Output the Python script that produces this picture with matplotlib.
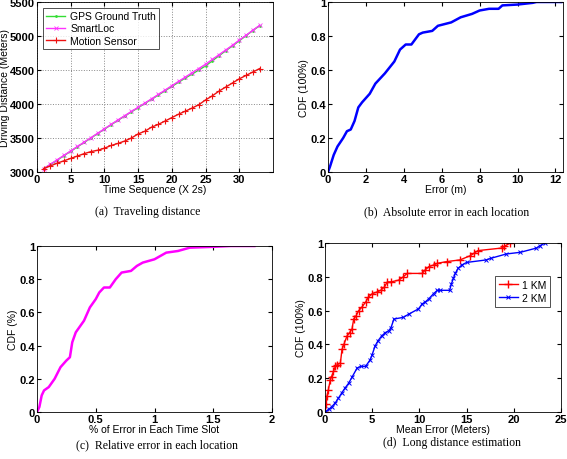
import numpy as np
import matplotlib.pyplot as plt

plt.rcParams['font.family'] = ['Liberation Sans', 'DejaVu Sans']

# (a) traveling distance
t_seq = list(range(1, 34))
gps_truth = [3050, 3110, 3175, 3240, 3305, 3370, 3435, 3500, 3565, 3630, 3695, 3760, 3822,
             3884, 3946, 4008, 4070, 4132, 4195, 4258, 4320, 4382, 4440, 4500, 4560, 4635,
             4710, 4785, 4855, 4930, 5005, 5080, 5150]
smartloc = [3050, 3115, 3180, 3245, 3310, 3375, 3440, 3505, 3570, 3635, 3700, 3765, 3828,
            3890, 3952, 4014, 4077, 4140, 4205, 4270, 4333, 4396, 4460, 4522, 4585, 4655,
            4725, 4795, 4865, 4940, 5010, 5085, 5155]
motion = [3050, 3090, 3130, 3165, 3200, 3235, 3270, 3300, 3320, 3350, 3390, 3420, 3455,
          3500, 3560, 3600, 3660, 3700, 3750, 3800, 3850, 3895, 3940, 3990, 4060, 4120,
          4190, 4250, 4310, 4370, 4420, 4470, 4520]

# (b) absolute error CDF
abs_err = [0, 0.1, 0.3, 0.5, 0.8, 1.0, 1.2, 1.4, 1.6, 1.8, 2.2, 2.5, 3.0, 3.5, 3.8, 4.1,
           4.4, 4.8, 5.0, 5.5, 5.8, 6.5, 7.0, 7.6, 8.0, 8.5, 9.0, 9.2, 10.0, 10.8, 11.0, 12.3]
abs_cdf = [0, 0.03, 0.1, 0.15, 0.2, 0.24, 0.25, 0.3, 0.38, 0.41, 0.46, 0.52, 0.58, 0.65,
           0.72, 0.75, 0.75, 0.81, 0.82, 0.83, 0.86, 0.88, 0.91, 0.93, 0.95, 0.96, 0.96,
           0.98, 0.985, 0.995, 1.0, 1.0]

# (c) relative error CDF
rel_err = [0, 0.02, 0.04, 0.06, 0.1, 0.15, 0.2, 0.25, 0.28, 0.3, 0.33, 0.4, 0.45, 0.5,
           0.53, 0.57, 0.62, 0.67, 0.72, 0.8, 0.85, 0.9, 1.0, 1.05, 1.1, 1.2, 1.3, 1.5,
           1.65, 1.85]
rel_cdf = [0, 0.03, 0.1, 0.13, 0.15, 0.2, 0.27, 0.31, 0.33, 0.42, 0.48, 0.55, 0.63, 0.68,
           0.72, 0.75, 0.75, 0.8, 0.84, 0.85, 0.88, 0.9, 0.92, 0.94, 0.96, 0.97, 0.99,
           0.995, 1.0, 1.0]

# (d) long distance
km1_err = [0, 0.1, 0.21, 0.35, 0.56, 0.7, 0.9, 1.1, 1.3, 1.63, 1.8, 2.0, 2.33, 2.6, 2.86,
           3.04, 3.3, 3.57, 3.9, 4.3, 4.6, 5.0, 5.5, 5.9, 6.3, 6.6, 7.0, 7.8, 8.3, 8.7, 10.3,
           10.6, 11.0, 11.5, 11.9, 12.9, 14.3, 15.4, 15.8, 16.2, 18.7, 19.0, 19.6]
km1_cdf = [0, 0.05, 0.095, 0.13, 0.19, 0.21, 0.24, 0.27, 0.28, 0.29, 0.37, 0.4, 0.45, 0.47,
           0.49, 0.55, 0.57, 0.6, 0.62, 0.65, 0.68, 0.70, 0.71, 0.72, 0.74, 0.77, 0.77,
           0.78, 0.8, 0.82, 0.82, 0.84, 0.86, 0.87, 0.88, 0.89, 0.9, 0.925, 0.94, 0.955,
           0.97, 0.98, 1.0]
km2_err = [0, 0.39, 0.7, 1.1, 1.4, 1.8, 2.1, 2.5, 2.9, 3.4, 3.8, 4.3, 4.8, 5.0, 5.3, 5.6,
           6.0, 6.4, 6.75, 7.0, 7.3, 8.3, 8.9, 9.9, 10.3, 10.6, 11.0, 11.5, 11.9, 12.2,
           13.2, 13.4, 13.6, 13.8, 14.1, 14.5, 15.0, 17.1, 17.6, 19.2, 20.7, 22.4, 22.8,
           23.3]
km2_cdf = [0, 0.016, 0.03, 0.055, 0.08, 0.115, 0.14, 0.17, 0.21, 0.26, 0.27, 0.27, 0.31,
           0.34, 0.39, 0.42, 0.45, 0.47, 0.48, 0.5, 0.55, 0.56, 0.58, 0.61, 0.64, 0.65,
           0.67, 0.7, 0.72, 0.72, 0.72, 0.76, 0.79, 0.82, 0.85, 0.87, 0.885, 0.9, 0.91,
           0.935, 0.945, 0.97, 0.985, 1.0]

W, H = 567, 460
fig = plt.figure(figsize=(W / 100, H / 100), dpi=100)
fs = 7.5

def box(l, t, r, b):
    return [l / W, 1 - b / H, (r - l) / W, (b - t) / H]

def style(ax):
    ax.tick_params(direction='in', labelsize=8, length=3, pad=1.5, top=True, right=True)
    for lab in ax.get_xticklabels() + ax.get_yticklabels():
        lab.set_fontweight('bold')
    for s in ax.spines.values():
        s.set_linewidth(0.6)

# (a)
ax = fig.add_axes(box(37, 3, 273, 173))
ax.plot(t_seq, gps_truth, color='#33dd33', lw=1, marker='.', ms=2, label='GPS Ground Truth')
ax.plot(t_seq, smartloc, color='#ff33ff', lw=1, marker='x', ms=3, mew=0.6, label='SmartLoc')
ax.plot(t_seq, motion, color='#ee1111', lw=1, marker='+', ms=5, mew=0.8, label='Motion Sensor')
ax.set_xlim(0, 35)
ax.set_ylim(3000, 5500)
ax.set_xticks([0, 5, 10, 15, 20, 25, 30])
ax.set_yticks([3000, 3500, 4000, 4500, 5000, 5500])
ax.grid(True, linestyle=':', color='#888888', lw=0.7)
ax.set_xlabel('Time Sequence (X 2s)', fontsize=fs, labelpad=0)
ax.set_ylabel('Driving Distance (Meters)', fontsize=fs, labelpad=0)
ax.legend(loc='upper left', fontsize=fs, frameon=True, fancybox=False, edgecolor='black',
          handlelength=1.8, handletextpad=0.5, borderpad=0.3, labelspacing=0.2,
          borderaxespad=0.6).get_frame().set_linewidth(0.6)
style(ax)

# (b)
ax = fig.add_axes(box(328, 3, 563, 173))
ax.plot(abs_err, abs_cdf, color='#0000ff', lw=1.8)
ax.set_xlim(0, 12.4)
ax.set_ylim(0, 1)
ax.set_xticks([0, 2, 4, 6, 8, 10, 12])
ax.set_yticks([0, 0.2, 0.4, 0.6, 0.8, 1])
ax.set_yticklabels(['0', '0.2', '0.4', '0.6', '0.8', '1'])
ax.set_xlabel('Error (m)', fontsize=fs, labelpad=0)
ax.set_ylabel('CDF (100%)', fontsize=fs, labelpad=1)
style(ax)

# (c)
ax = fig.add_axes(box(37, 247, 272, 413))
ax.plot(rel_err, rel_cdf, color='#ff00ff', lw=1.8)
ax.set_xlim(0, 2)
ax.set_ylim(0, 1)
ax.set_xticks([0, 0.5, 1, 1.5, 2])
ax.set_xticklabels(['0', '0.5', '1', '1.5', '2'])
ax.set_yticks([0, 0.2, 0.4, 0.6, 0.8, 1])
ax.set_yticklabels(['0', '0.2', '0.4', '0.6', '0.8', '1'])
ax.set_xlabel('% of Error in Each Time Slot', fontsize=fs, labelpad=0)
ax.set_ylabel('CDF (%)', fontsize=fs, labelpad=1)
style(ax)

# (d)
ax = fig.add_axes(box(325, 244, 561, 413))
ax.plot(km1_err, km1_cdf, color='#ff0000', lw=1, marker='+', ms=6, mew=1, label='1 KM')
ax.plot(km2_err, km2_cdf, color='#0000ff', lw=1, marker='x', ms=3.5, mew=0.7, label='2 KM')
ax.set_xlim(0, 25)
ax.set_ylim(0, 1)
ax.set_xticks([0, 5, 10, 15, 20, 25])
ax.set_yticks([0, 0.2, 0.4, 0.6, 0.8, 1])
ax.set_yticklabels(['0', '0.2', '0.4', '0.6', '0.8', '1'])
ax.set_xlabel('Mean Error (Meters)', fontsize=fs, labelpad=0)
ax.set_ylabel('CDF (100%)', fontsize=fs, labelpad=1)
ax.legend(loc='upper right', bbox_to_anchor=(0.975, 0.835), fontsize=fs, frameon=True, fancybox=False,
          edgecolor='black', handlelength=1.8, handletextpad=0.4, borderpad=0.35,
          labelspacing=0.3).get_frame().set_linewidth(0.6)
style(ax)

cap = dict(fontsize=8.5, family=['Liberation Serif', 'DejaVu Serif'], ha='center', va='center')
fig.text(148 / W, 1 - 212 / H, '(a)  Traveling distance', **cap)
fig.text(447 / W, 1 - 212 / H, '(b)  Absolute error in each location', **cap)
fig.text(157 / W, 1 - 445 / H, '(c)  Relative error in each location', **cap)
fig.text(452 / W, 1 - 443 / H, '(d)  Long distance estimation', **cap)

fig.savefig('out.png', dpi=100)
